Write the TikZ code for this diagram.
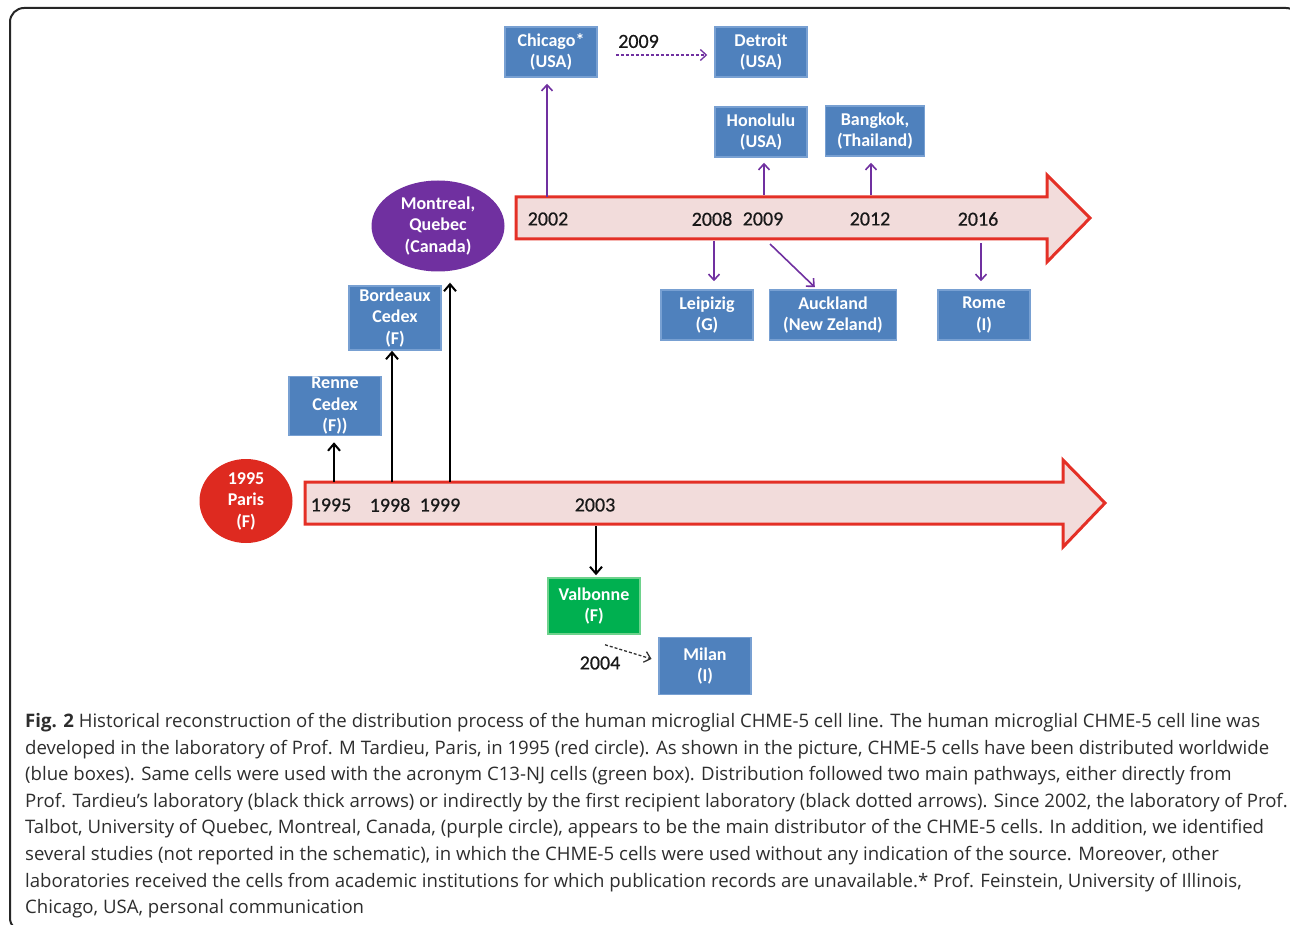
\documentclass[tikz,border=0pt]{standalone}
\usepackage{fontspec}
\setmainfont{Open Sans}
\newfontfamily\boxfont{Carlito}
\newfontfamily\yearfont[FakeBold=0.6]{Carlito}
\usetikzlibrary{arrows.meta,shapes.geometric,positioning,calc}
\definecolor{barfill}{RGB}{242,220,219}
\definecolor{barred}{RGB}{228,48,38}
\definecolor{boxblue}{RGB}{79,129,189}
\definecolor{boxedge}{RGB}{120,160,210}
\definecolor{boxgreen}{RGB}{0,176,80}
\definecolor{greenedge}{RGB}{110,210,140}
\definecolor{parisred}{RGB}{222,42,32}
\definecolor{montpurple}{RGB}{112,48,160}
\definecolor{captiongray}{RGB}{45,45,45}

\begin{document}
\begin{tikzpicture}[x=1pt,y=-1pt]
\tikzset{
    city box/.style={
       draw = boxedge,
       fill = boxblue,
       line width = 1.5pt,
       text = white,
       font = \boxfont\bfseries\fontsize{18}{21.5}\selectfont,
       align = center,
       inner sep = 0pt,
       minimum width = 92pt,
       minimum height = 50pt
    },
    city oval/.style={
       ellipse,
       text = white,
       font = \boxfont\bfseries\fontsize{18}{21.5}\selectfont,
       align = center,
       inner sep = 0pt
    },
    year label/.style={
       font = \yearfont\fontsize{20}{24}\selectfont,
       text = black!90
    },
    time bar/.style={
       fill = barfill,
       draw = barred,
       line width = 3pt,
       line join = miter
    },
    direct/.style={
       -{Straight Barb[length=7pt,width=12pt,line width=2pt]},
       line width = 2.3pt,
       black
    },
    via quebec/.style={
       -{Straight Barb[length=6pt,width=11pt,line width=1.6pt]},
       line width = 1.6pt,
       montpurple
    },
    indirect/.style={
       -{Straight Barb[length=6pt,width=11pt,line width=1.3pt]},
       line width = 1.3pt,
       dash pattern = on 3pt off 2pt
    }
}
\useasboundingbox (0,0) rectangle (1290,925);
%
\draw[line width=2pt, black!85, rounded corners=14pt] (10,8) rectangle (1300,932);

% the two time lines
\draw[time bar] (305,482) -- (1063,482) -- (1063,460) -- (1105,503)
   -- (1063,547) -- (1063,524) -- (305,524) -- cycle;
\draw[time bar] (516,197) -- (1047,197) -- (1047,175) -- (1090,218)
   -- (1047,262) -- (1047,239) -- (516,239) -- cycle;

\node[year label] at (331,505) (y1995) {1995};
\node[year label] at (390,505) (y1998) {1998};
\node[year label] at (440,505) (y1999) {1999};
\node[year label] at (595,505) (y2003) {2003};
\node[year label] at (548,219) (y2002) {2002};
\node[year label] at (712,219) (y2008) {2008};
\node[year label] at (763,219) (y2009) {2009};
\node[year label] at (870,219) (y2012) {2012};
\node[year label] at (978,219) (y2016) {2016};

% where the arrows leave the bars
\coordinate (b1995) at (334,482);
\coordinate (b1998) at (392,482);
\coordinate (b1999) at (450,482);
\coordinate (b2003) at (596,526);
\coordinate (b2002) at (547,197);
\coordinate (b2008) at (714,241);
\coordinate (b2009) at (770,244);
\coordinate (b2009u) at (764,195);
\coordinate (b2012) at (871,195);
\coordinate (b2016) at (981,243);

% labs
\node[city oval, fill=parisred, minimum width=93pt, minimum height=84pt] at (246,501) (paris) {1995\\Paris\\(F)};
\node[city oval, fill=montpurple, minimum width=133pt, minimum height=91pt] at (438,226) (montreal) {Montreal,\\Quebec\\(Canada)};
\node[city box, minimum height=59pt] at (335,406) (renne) {Renne\\Cedex\\(F))};
\node[city box, minimum height=64pt] at (395,318) (bordeaux) {Bordeaux\\Cedex\\(F)};
\node[city box, draw=greenedge, fill=boxgreen, minimum height=56pt] at (594,606) (valbonne) {Valbonne\\(F)};
\node[city box, minimum height=57pt] at (705,666) (milan) {Milan\\(I)};
\node[city box] at (551,52) (chicago) {Chicago*\\(USA)};
\node[city box] at (761,52) (detroit) {Detroit\\(USA)};
\node[city box] at (761,132) (honolulu) {Honolulu\\(USA)};
\node[city box, minimum width=99pt] at (875,131) (bangkok) {Bangkok,\\(Thailand)};
\node[city box] at (707,315) (leipizig) {Leipizig\\(G)};
\node[city box, minimum width=127pt] at (833,315) (auckland) {Auckland\\(New Zeland)};
\node[city box] at (984,315) (rome) {Rome\\(I)};

% straight from Paris
\draw[direct, shorten >=6pt] (b1995) -- (b1995 |- renne.south);
\draw[direct] (b1998) -- (b1998 |- bordeaux.south);
\draw[direct, shorten >=11pt] (b1999) -- (b1999 |- montreal.south);
\draw[direct, shorten >=2pt] (b2003) -- (b2003 |- valbonne.north);

% from Montreal
\draw[via quebec, shorten >=6pt] (b2002) -- (b2002 |- chicago.south);
\draw[via quebec, shorten >=5pt] (b2009u) -- (b2009u |- honolulu.south);
\draw[via quebec, shorten >=6pt] (b2012) -- (b2012 |- bangkok.south);
\draw[via quebec, shorten >=8pt] (b2008) -- (b2008 |- leipizig.north);
\draw[via quebec, shorten >=3pt] (b2009) -- ($(auckland.north)+(-16,0)$);
\draw[via quebec, shorten >=8pt] (b2016) -- (b2016 |- rome.north);

% second hand
\draw[indirect, montpurple, shorten <=18pt, shorten >=7pt] ([yshift=-3pt]chicago.east) -- ([yshift=-3pt]detroit.west)
   node[pos=0.35, above=3pt, year label] (y2009b) {2009};
\draw[indirect, black!80, shorten >=7pt] ($(valbonne.south)+(11,10)$) -- ([yshift=5pt]milan.west);
\node[year label] at (600,663) (y2004) {2004};

% caption
\node[anchor=north west, align=left, text=captiongray, inner sep=0pt,
      font=\fontsize{18.6}{26.6}\selectfont] at (25,713) (caption)
{\textbf{Fig. 2} Historical reconstruction of the distribution process of the human microglial CHME-5 cell line. The human microglial CHME-5 cell line was\\
developed in the laboratory of Prof. M Tardieu, Paris, in 1995 (red circle). As shown in the picture, CHME-5 cells have been distributed worldwide\\
(blue boxes). Same cells were used with the acronym C13-NJ cells (green box). Distribution followed two main pathways, either directly from\\
Prof. Tardieu’s laboratory (black thick arrows) or indirectly by the first recipient laboratory (black dotted arrows). Since 2002, the laboratory of Prof.\\
Talbot, University of Quebec, Montreal, Canada, (purple circle), appears to be the main distributor of the CHME-5 cells. In addition, we identified\\
several studies (not reported in the schematic), in which the CHME-5 cells were used without any indication of the source. Moreover, other\\
laboratories received the cells from academic institutions for which publication records are unavailable.* Prof. Feinstein, University of Illinois,\\
Chicago, USA, personal communication};
\end{tikzpicture}
\end{document}
